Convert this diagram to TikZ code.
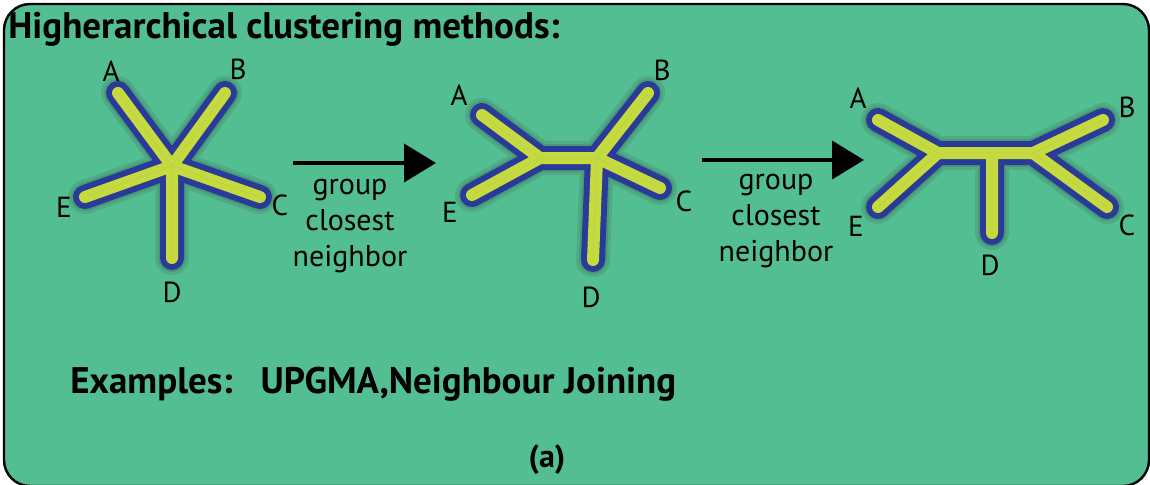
\documentclass[tikz,border=0pt]{standalone}
\usepackage{fontspec}
\setmainfont{PT Sans}
\usetikzlibrary{arrows.meta}
\definecolor{bg}{RGB}{83,190,146}
\definecolor{treeblue}{RGB}{42,58,152}
\definecolor{treeyellow}{RGB}{198,218,62}
\tikzset{
  shad/.style={line width=17pt, draw=black!80, opacity=0.13, line cap=round, line join=round},
  shadin/.style={line width=14pt, draw=black!80, opacity=0.15, line cap=round, line join=round},
  outerl/.style={line width=12pt, draw=treeblue, line cap=round, line join=round},
  innerl/.style={line width=6pt, draw=treeyellow, line cap=round, line join=round},
  centl/.style={line width=0.4pt, draw=treeyellow!70!bg, opacity=0.6},
  leaf/.style={font=\fontsize{14.5}{16}\selectfont, inner sep=0pt},
  steptxt/.style={font=\fontsize{15}{18}\selectfont, align=center, inner sep=0pt},
  bigarrow/.style={line width=2pt, -{Triangle[length=16pt,width=19pt]}},
}
\begin{document}
\begin{tikzpicture}[x=0.5pt,y=-0.5pt]
\useasboundingbox (0,0) rectangle (1150,484);
\clip (0,0) rectangle (1150,484);
\draw[fill=bg, draw=black, line width=1.2pt, rounded corners=13pt] (4,4) rectangle (1149,486);

\node[anchor=base west, inner sep=0pt, font=\fontsize{18.5}{20}\bfseries\selectfont] (title) at (8,38) {Higherarchical clustering methods:};

% ---- tree 1 (star)
\coordinate (c1) at (172,166);
\coordinate (a1) at (118,93);
\coordinate (b1) at (225,93);
\coordinate (cc1) at (260,197);
\coordinate (e1) at (85,197);
\coordinate (d1) at (172,258);
\begin{scope}[shift={(3,4)}]
\draw[shad] (a1)--(c1)--(b1) (cc1)--(c1)--(e1) (c1)--(d1);
\draw[shadin] (a1)--(c1)--(b1) (cc1)--(c1)--(e1) (c1)--(d1);
\end{scope}
\draw[outerl] (a1)--(c1)--(b1) (cc1)--(c1)--(e1) (c1)--(d1);
\draw[innerl] (a1)--(c1)--(b1) (cc1)--(c1)--(e1) (c1)--(d1);
\draw[centl] (a1)--(c1)--(b1) (cc1)--(c1)--(e1) (c1)--(d1);
\node[leaf] (la1) at (111,71) {A};
\node[leaf] (lb1) at (238,69) {B};
\node[leaf] (lc1) at (280,205) {C};
\node[leaf] (le1) at (64,207) {E};
\node[leaf] (ld1) at (172,292) {D};

% ---- arrow 1
\coordinate (s1) at (293,163);
\coordinate (t1) at (436,163);
\draw[bigarrow] (s1) -- (t1);
\node[steptxt] (g1) at (350,226) {group\\closest\\neighbor};

% ---- tree 2
\coordinate (n21) at (540,158);
\coordinate (n22) at (597,158);
\coordinate (a2) at (482,115);
\coordinate (e2) at (472,195);
\coordinate (b2) at (648,93);
\coordinate (cc2) at (660,188);
\coordinate (d2) at (593,260);
\begin{scope}[shift={(3,4)}]
\draw[shad] (a2)--(n21)--(e2) (n21)--(n22) (b2)--(n22)--(cc2) (n22)--(d2);
\draw[shadin] (a2)--(n21)--(e2) (n21)--(n22) (b2)--(n22)--(cc2) (n22)--(d2);
\end{scope}
\draw[outerl] (a2)--(n21)--(e2) (n21)--(n22) (b2)--(n22)--(cc2) (n22)--(d2);
\draw[innerl] (a2)--(n21)--(e2) (n21)--(n22) (b2)--(n22)--(cc2) (n22)--(d2);
\draw[centl] (a2)--(n21)--(e2) (n21)--(n22) (b2)--(n22)--(cc2) (n22)--(d2);
\node[leaf] (la2) at (459,95) {A};
\node[leaf] (lb2) at (662,70) {B};
\node[leaf] (lc2) at (684,201) {C};
\node[leaf] (le2) at (450,212) {E};
\node[leaf] (ld2) at (591,297) {D};

% ---- arrow 2
\coordinate (s2) at (702,160);
\coordinate (t2) at (864,160);
\draw[bigarrow] (s2) -- (t2);
\node[steptxt] (g2) at (776,221) {group\\closest\\neighbor};

% ---- tree 3
\coordinate (n31) at (938,153);
\coordinate (n32) at (992,153);
\coordinate (n33) at (1033,153);
\coordinate (a3) at (878,120);
\coordinate (e3) at (878,207);
\coordinate (b3) at (1103,120);
\coordinate (cc3) at (1107,207);
\coordinate (d3) at (992,233);
\begin{scope}[shift={(3,4)}]
\draw[shad] (a3)--(n31)--(e3) (n31)--(n33) (b3)--(n33)--(cc3) (n32)--(d3);
\draw[shadin] (a3)--(n31)--(e3) (n31)--(n33) (b3)--(n33)--(cc3) (n32)--(d3);
\end{scope}
\draw[outerl] (a3)--(n31)--(e3) (n31)--(n33) (b3)--(n33)--(cc3) (n32)--(d3);
\draw[innerl] (a3)--(n31)--(e3) (n31)--(n33) (b3)--(n33)--(cc3) (n32)--(d3);
\draw[centl] (a3)--(n31)--(e3) (n31)--(n33) (b3)--(n33)--(cc3) (n32)--(d3);
\node[leaf] (la3) at (858,98) {A};
\node[leaf] (lb3) at (1127,107) {B};
\node[leaf] (lc3) at (1127,225) {C};
\node[leaf] (le3) at (856,226) {E};
\node[leaf] (ld3) at (990,265) {D};

\node[anchor=base west, inner sep=0pt, font=\fontsize{18.5}{20}\bfseries\selectfont] (ex) at (70,393) {Examples:\ \ \ UPGMA,Neighbour Joining};
\node[anchor=base, inner sep=0pt, font=\fontsize{16}{18}\bfseries\selectfont] (lab) at (547,467) {(a)};
\end{tikzpicture}
\end{document}
